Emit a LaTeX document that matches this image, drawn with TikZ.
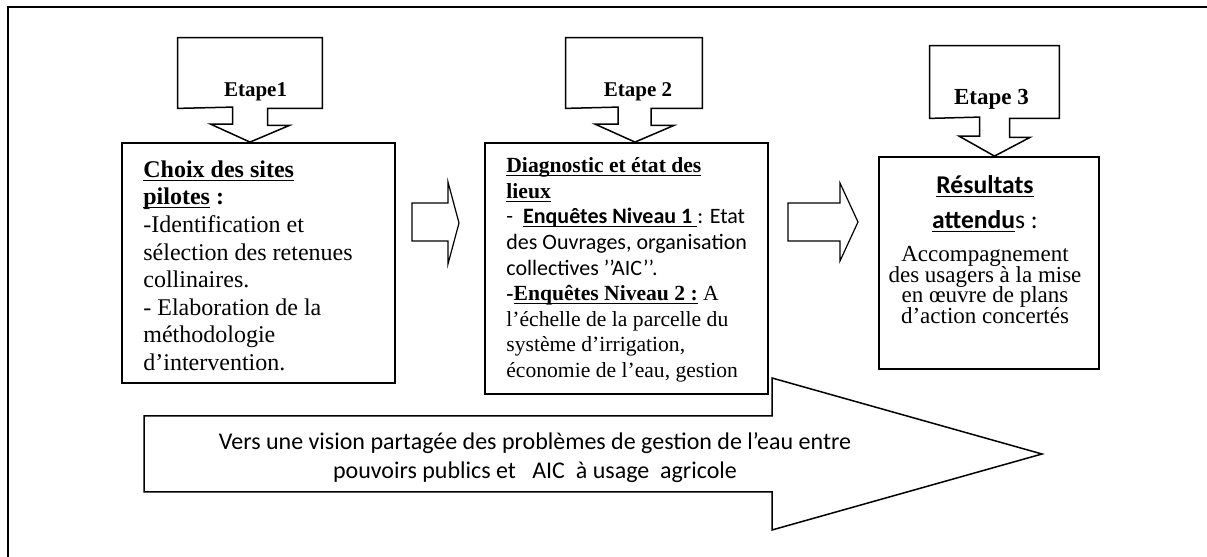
\documentclass[tikz,border=0pt]{standalone}
\usepackage{fontspec}
\setmainfont{Liberation Serif}
\newfontfamily\calibri{Carlito}
\newcommand\souligne[1]{\underline{\smash{#1}\vphantom{A}}}

\begin{document}
\begin{tikzpicture}[
    x=0.5pt, y=0.5pt,
    cadre/.style={draw, line width=0.9pt, inner sep=0pt},
    bloc/.style={draw, line width=0.75pt, line join=miter},
    fine/.style={draw, line width=0.6pt, line join=miter},
    etape/.style={inner sep=0pt, minimum height=35pt},
    etiq/.style={anchor=base, font=\bfseries\fontsize{10.5}{12}\selectfont},
    texte/.style={inner sep=0pt, align=left}
]
\useasboundingbox (0,0) rectangle (1207,557);
% ----- outer frame (cut at right and bottom) -----
\draw[line width=1pt] (8,0) -- (8,550) -- (1207,550);
% ----- the three boxes -----
\node[cadre, minimum width=136.5pt, minimum height=120pt] (choix) at (258.5,294) {};
\node[cadre, minimum width=141.5pt, minimum height=125.5pt] (diag) at (626.5,288.5) {};
\node[cadre, minimum width=110pt, minimum height=106pt] (result) at (989,294) {};
% ----- texts of the boxes -----
\node[texte, anchor=north west, font={\fontsize{12}{13.8}\selectfont\lineskiplimit=-20pt}] (choixTxt) at (143,396) {%
    \textbf{\souligne{Choix des sites}}\\
    \textbf{\souligne{pilotes} :}\\
    -Identification et\\
    sélection des retenues\\
    collinaires.\\
    - Elaboration de la\\
    méthodologie\\
    d’intervention.};
\node[texte, anchor=north west, font={\fontsize{10.8}{12.8}\selectfont\lineskiplimit=-20pt}] (diagTxt) at (506,399) {%
    \textbf{\souligne{Diagnostic et état des}}\\
    \textbf{\souligne{lieux}}\\
    {\calibri\fontsize{11}{12.8}\selectfont -\ \ \textbf{\souligne{Enquêtes Niveau 1\ }}: Etat}\\
    {\calibri\fontsize{11}{12.8}\selectfont des Ouvrages, organisation}\\
    {\calibri\fontsize{11}{12.8}\selectfont collectives ’’AIC’’.}\\
    \textbf{-\souligne{Enquêtes Niveau 2 :}} A\\
    l’échelle de la parcelle du\\
    système d’irrigation,\\
    économie de l’eau, gestion};
\node[texte, align=center, anchor=north, font={\fontsize{11.5}{10.3}\selectfont\lineskiplimit=-20pt}] (resultTxt) at (985,380) {%
    {\calibri\bfseries\fontsize{12.8}{10}\selectfont\souligne{Résultats}}\\[6.8pt]
    {\calibri\fontsize{12.8}{10}\selectfont\textbf{\souligne{attendu}}s :}\\[6.5pt]
    Accompagnement\\
    des usagers à la mise\\
    en œuvre de plans\\
    d’action concertés};
% ----- step callouts -----
\node[etape, minimum width=72pt] (etapeA) at (250,484) {};
\node[etape, minimum width=68pt] (etapeB) at (634,484) {};
\node[etape, minimum width=64.5pt, minimum height=36pt] (etapeC) at (994.5,475) {};
\draw[bloc] (etapeA.south west) -- (etapeA.north west) -- (etapeA.north east) -- (etapeA.south east)
    -- ([xshift=8.75pt]etapeA.south) -- ++(0,-17) -- ++(22,0) -- (etapeA.south |- choix.north)
    -- ++(-39.5,18) -- ++(22,0) -- ++(0,17) -- cycle;
\draw[bloc] (etapeB.south west) -- (etapeB.north west) -- (etapeB.north east) -- (etapeB.south east)
    -- ([xshift=8.5pt]etapeB.south) -- ++(0,-17) -- ++(23,0) -- ([xshift=0.5pt]etapeB.south |- diag.north)
    -- ++(-40,18) -- ++(23,0) -- ++(0,17) -- cycle;
\draw[bloc] (etapeC.south west) -- (etapeC.north west) -- (etapeC.north east) -- (etapeC.south east)
    -- ([xshift=7.5pt]etapeC.south) -- ++(0,-19) -- ++(20.5,0) -- (etapeC.south |- result.north)
    -- ++(-35.5,20) -- ++(20.5,0) -- ++(0,19) -- cycle;
\node[etiq] (lblA) at (255.5,460) {Etape1};
\node[etiq] (lblB) at (638,460) {Etape 2};
\node[etiq, font=\bfseries\fontsize{11.5}{12}\selectfont] (lblC) at (991.5,452) {Etape 3};
% ----- arrows between the boxes -----
\draw[fine] (412,316) -- ++(36,0) -- ++(0,-23) -- (459,334) -- ++(-11,41) -- ++(0,-21) -- ++(-36,0) -- cycle;
\draw[fine] (788,316) -- ++(52,0) -- ++(0,-20) -- (858,335) -- (840,374) -- ++(0,-20) -- ++(-52,0) -- cycle;
% ----- big arrow at the bottom -----
\draw[bloc] (144,65) -- (772,65) -- (772,27) -- (1042,103) -- (772,179) -- (772,141) -- (144,141) -- cycle;
\node[align=center, inner sep=0pt, font=\calibri\fontsize{12}{14.5}\selectfont] (vision) at (535,99) {%
    Vers une vision partagée des problèmes de gestion de l’eau entre\\
    pouvoirs publics et\ \ \ AIC\ \ à usage\ \ agricole};
\end{tikzpicture}
\end{document}
